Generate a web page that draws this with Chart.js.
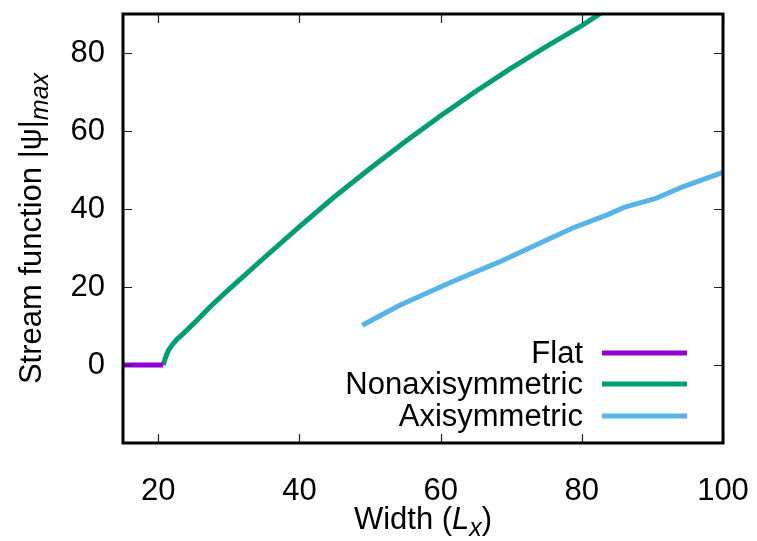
<!DOCTYPE html>
<html>
<head>
<meta charset="utf-8">
<script src="https://cdn.jsdelivr.net/npm/chart.js@4/dist/chart.umd.min.js"></script>
<style>
html,body{margin:0;padding:0;background:#fff;}
#wrap{width:757px;height:541px;}
</style>
</head>
<body>
<div id="wrap"><canvas id="c" width="757" height="541"></canvas></div>
<script>
const seriesLabels = ['Flat', 'Nonaxisymmetric', 'Axisymmetric'];
const seriesColors = ['#9400D3', '#009E73', '#56B4E9'];

const flatX = [15, 20.7];
const flatY = [0, 0];

const nonaxiX = [20.7, 21.0, 21.4, 21.9, 22.6, 23.5, 25, 27.5, 30, 35, 40, 45, 50, 55, 60, 65, 70, 75, 80, 83];
const nonaxiY = [0, 1.8, 3.6, 5.0, 6.5, 8.0, 10.6, 15.2, 19.4, 27.5, 35.5, 43.2, 50.4, 57.3, 63.9, 70.2, 76.1, 81.7, 87.0, 90.6];

const axiX = [48.9, 54.2, 61.3, 68.4, 74.1, 78.8, 83.6, 86.1, 90.6, 93.9, 100];
const axiY = [10.2, 15.3, 21.1, 26.5, 31.3, 35.2, 38.5, 40.5, 42.8, 45.4, 49.4];

const xTicks = [20, 40, 60, 80, 100];
const yTicks = [0, 20, 40, 60, 80];
const xRange = [15, 100];
const yRange = [-20, 90];

const FONT = '"Liberation Sans", Arial, Helvetica, sans-serif';
const FS = 31;

function pts(xs, ys) { return xs.map((x, i) => ({x: x, y: ys[i]})); }

const datasets = [
  {label: seriesLabels[0], data: pts(flatX, flatY)},
  {label: seriesLabels[1], data: pts(nonaxiX, nonaxiY)},
  {label: seriesLabels[2], data: pts(axiX, axiY)}
].map((d, i) => Object.assign(d, {
  borderColor: seriesColors[i], backgroundColor: seriesColors[i],
  borderWidth: 5, pointRadius: 0, fill: false, tension: 0,
  borderCapStyle: 'butt', borderJoinStyle: 'round'
}));

function noPad(s) { s.paddingTop = 0; s.paddingBottom = 0; s.paddingLeft = 0; s.paddingRight = 0; }

const framePlugin = {
  id: 'frame',
  afterDraw(chart) {
    const ctx = chart.ctx, a = chart.chartArea;
    const xs = chart.scales.x, ys = chart.scales.y;
    ctx.save();
    ctx.strokeStyle = '#222';
    ctx.lineWidth = 1.2;
    ctx.beginPath();
    xTicks.forEach(v => {
      const p = Math.round(xs.getPixelForValue(v)) + 0.5;
      ctx.moveTo(p, a.bottom); ctx.lineTo(p, a.bottom - 9);
      ctx.moveTo(p, a.top); ctx.lineTo(p, a.top + 9);
    });
    yTicks.forEach(v => {
      const p = Math.round(ys.getPixelForValue(v)) + 0.5;
      ctx.moveTo(a.left, p); ctx.lineTo(a.left + 9, p);
      ctx.moveTo(a.right, p); ctx.lineTo(a.right - 9, p);
    });
    ctx.stroke();
    ctx.strokeStyle = '#000';
    ctx.lineWidth = 3;
    ctx.strokeRect(a.left, a.top, a.right - a.left, a.bottom - a.top);

    // legend
    ctx.font = FS + 'px ' + FONT;
    ctx.textAlign = 'right';
    ctx.textBaseline = 'middle';
    const ly = [353, 384, 416];
    chart.data.datasets.forEach((d, i) => {
      ctx.fillStyle = '#000';
      ctx.fillText(d.label, 583, ly[i] + 1);
      ctx.strokeStyle = d.borderColor;
      ctx.lineWidth = 5;
      ctx.beginPath();
      ctx.moveTo(602, ly[i]); ctx.lineTo(687, ly[i]);
      ctx.stroke();
    });

    // x title
    ctx.fillStyle = '#000';
    ctx.textAlign = 'left';
    ctx.textBaseline = 'alphabetic';
    const cx = (a.left + a.right) / 2;
    const parts = [
      {t: 'Width (', f: FS + 'px ' + FONT, dy: 0},
      {t: 'L', f: 'italic ' + FS + 'px ' + FONT, dy: 0},
      {t: 'x', f: 'italic ' + Math.round(FS * 0.8) + 'px ' + FONT, dy: 7},
      {t: ')', f: FS + 'px ' + FONT, dy: 0}
    ];
    let w = 0;
    parts.forEach(p => { ctx.font = p.f; p.w = ctx.measureText(p.t).width; w += p.w; });
    let x0 = cx - w / 2;
    const by = 529;
    parts.forEach(p => { ctx.font = p.f; ctx.fillText(p.t, x0, by + p.dy); x0 += p.w; });

    // y title
    ctx.save();
    ctx.translate(41, (a.top + a.bottom) / 2);
    ctx.rotate(-Math.PI / 2);
    const yp = [
      {t: 'Stream function |ψ|', f: FS + 'px ' + FONT, dy: 0},
      {t: 'max', f: 'italic ' + Math.round(FS * 0.8) + 'px ' + FONT, dy: 7}
    ];
    w = 0;
    yp.forEach(p => { ctx.font = p.f; p.w = ctx.measureText(p.t).width; w += p.w; });
    x0 = -w / 2;
    yp.forEach(p => { ctx.font = p.f; ctx.fillText(p.t, x0, p.dy); x0 += p.w; });
    ctx.restore();
    ctx.restore();
  }
};

new Chart(document.getElementById('c'), {
  type: 'line',
  data: {datasets: datasets},
  options: {
    responsive: false,
    animation: false,
    devicePixelRatio: 1,
    layout: {padding: {top: 14, right: 34, left: 0, bottom: 0}},
    plugins: {legend: {display: false}, tooltip: {enabled: false}},
    scales: {
      x: {
        type: 'linear', min: xRange[0], max: xRange[1],
        afterFit(s) { s.height = 98; noPad(s); },
        afterBuildTicks(s) { s.ticks = xTicks.map(v => ({value: v})); },
        grid: {display: false, drawTicks: false},
        border: {display: false},
        ticks: {color: '#000', font: {family: FONT, size: FS}, padding: 30, maxRotation: 0, autoSkip: false}
      },
      y: {
        type: 'linear', min: yRange[0], max: yRange[1],
        afterFit(s) { s.width = 123; noPad(s); },
        afterBuildTicks(s) { s.ticks = yTicks.map(v => ({value: v})); },
        grid: {display: false, drawTicks: false},
        border: {display: false},
        ticks: {color: '#000', font: {family: FONT, size: FS}, padding: 18, autoSkip: false}
      }
    }
  },
  plugins: [framePlugin]
});
</script>
</body>
</html>
